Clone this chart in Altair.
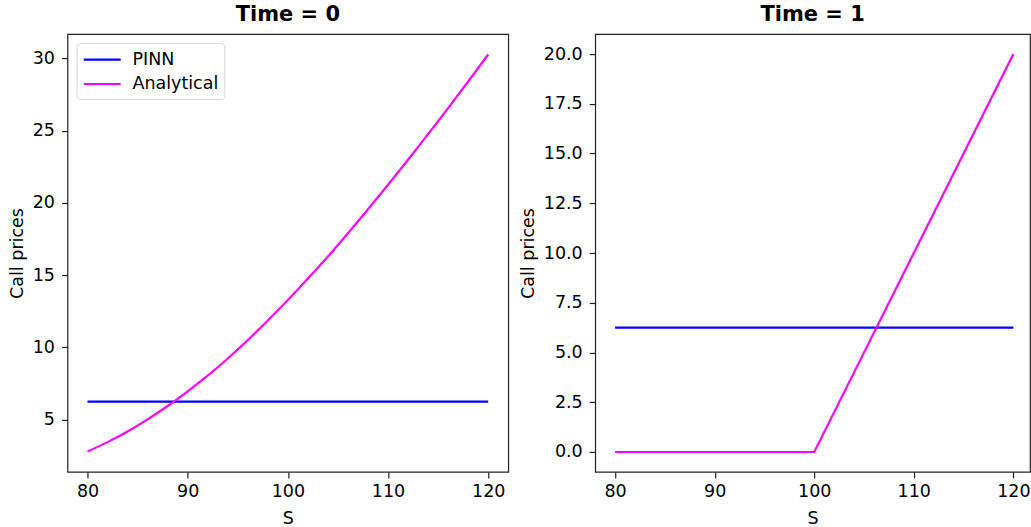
import altair as alt
import pandas as pd

# ---- data ----
s_t0 = [80, 82, 84, 86, 88, 90, 92, 94, 96, 98, 100,
        102, 104, 106, 108, 110, 112, 114, 116, 118, 120]
analytical_t0 = [2.79, 3.44, 4.18, 5.02, 5.94, 6.96, 8.04, 9.23, 10.50, 11.86, 13.27,
                 14.76, 16.29, 17.90, 19.56, 21.25, 22.98, 24.76, 26.56, 28.40, 30.27]
s_t1 = [80, 90, 100, 110, 120]
analytical_t1 = [0.0, 0.0, 0.0, 10.0, 20.0]
s_pinn = [80, 120]
pinn_t0 = [6.24, 6.24]
pinn_t1 = [6.25, 6.25]

series_names = ["PINN", "Analytical"]
series_colors = ["#0000ff", "#ff00ff"]
x_ticks = [80, 90, 100, 110, 120]
y_ticks_t0 = [5, 10, 15, 20, 25, 30]
y_ticks_t1 = [0, 2.5, 5, 7.5, 10, 12.5, 15, 17.5, 20]

FONT = "DejaVu Sans"
FS = 17.5


def make_df(s, v, name):
    return pd.DataFrame({"S": s, "price": v, "series": [name] * len(s)})


def panel(title, pinn_s, pinn_v, an_s, an_v, xdom, ydom, yvals, yfmt, width, interp):
    color = alt.Color(
        "series:N",
        scale=alt.Scale(domain=series_names, range=series_colors),
        legend=alt.Legend(
            title=None, orient="top-left", offset=9,
            symbolType="M-1,0L3,0", symbolSize=342, symbolStrokeWidth=2.2,
            labelFontSize=FS, labelFont=FONT, labelColor="black",
            labelOffset=29, rowPadding=5.4, padding=6,
            strokeColor="#d5d5d5", fillColor="white", cornerRadius=4,
        ),
    )
    x = alt.X("S:Q", title="S",
              scale=alt.Scale(domain=xdom, nice=False, zero=False),
              axis=alt.Axis(values=x_ticks, format="d"))
    y = alt.Y("price:Q", title="Call prices",
              scale=alt.Scale(domain=ydom, nice=False, zero=False),
              axis=alt.Axis(values=yvals, format=yfmt))
    l1 = alt.Chart(make_df(pinn_s, pinn_v, "PINN")).mark_line(strokeWidth=2.2, clip=True).encode(
        x=x, y=y, color=color)
    l2 = alt.Chart(make_df(an_s, an_v, "Analytical")).mark_line(
        strokeWidth=2.2, clip=True, interpolate=interp).encode(x=x, y=y, color=color)
    return alt.layer(l1, l2).properties(
        width=width, height=438,
        title=alt.TitleParams(title, fontSize=21, font=FONT, fontWeight="bold",
                              color="black", offset=9, anchor="middle"),
    )


left = panel("Time = 0", s_pinn, pinn_t0, s_t0, analytical_t0,
             [78, 122], [1.38, 31.68], y_ticks_t0, "d", 441, "monotone")
right = panel("Time = 1", s_pinn, pinn_t1, s_t1, analytical_t1,
              [78, 121.67], [-1.0, 21.0], y_ticks_t1, ".1f", 435, "linear")

chart = alt.hconcat(left, right, spacing=9).properties(
    padding={"left": 7.5, "top": 3, "right": 0, "bottom": 0},
    background="white",
).configure_view(
    stroke="#222222", strokeWidth=1.2
).configure_axis(
    domain=False, grid=False,
    tickSize=6, tickColor="#222222", tickWidth=1.2,
    labelFont=FONT, labelFontSize=FS, labelColor="black",
    titleFont=FONT, titleFontSize=FS, titleColor="black", titleFontWeight="normal",
).configure_axisX(
    labelPadding=5, titlePadding=9
).configure_axisY(
    labelPadding=7, titlePadding=6
)

chart.save("out.html", embed_options={"renderer": "svg", "actions": False})
